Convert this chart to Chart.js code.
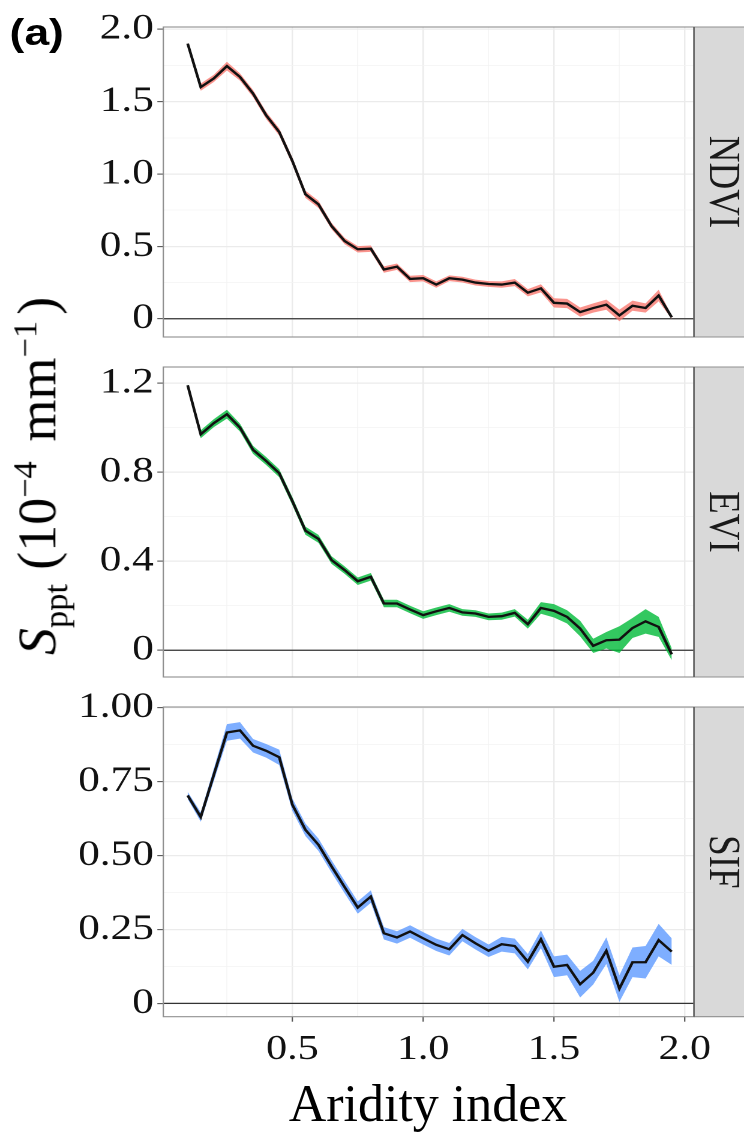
<!DOCTYPE html>
<html lang="en">
<head>
<meta charset="UTF-8">
<title>Sppt vs aridity index</title>
<script src="https://cdn.jsdelivr.net/npm/chart.js"></script>
<style>
  body { margin: 0; background: #fff; width: 744px; height: 1140px; overflow: hidden; position: relative; }
  /* the panels of the source figure are stretched sideways, so they are drawn narrow and scaled */
  #wrap { position: absolute; left: 0; top: 0; width: 620px; height: 1140px; transform: scaleX(1.2); transform-origin: 0 0; }
  canvas { position: absolute; left: 0; }
  #tag { position: absolute; left: 8px; top: 14px; font: bold 37px "Liberation Sans", Arial, sans-serif; line-height: 1; color: #000; }
  #ytitle { position: absolute; left: 40px; top: 476px; font: 54px "Liberation Serif", "Times New Roman", serif; line-height: 1;
            white-space: nowrap; color: #000; transform: translate(-50%, -50%) rotate(-90deg); }
  #ytitle sub, #ytitle sup { font-size: 0.64em; }
  #ytitle sub { margin-right: 14px; }
  #ytitle sup { margin-right: 6px; }
  #xtitle { position: absolute; left: 228px; width: 400px; top: 1078px; text-align: center;
            font: 52px "Liberation Serif", "Times New Roman", serif; line-height: 1; color: #000; }
</style>
</head>
<body>
<div id="wrap">
  <div id="tag">(a)</div>
  <canvas id="c0" width="620" height="332" style="top:7px"></canvas>
  <canvas id="c1" width="620" height="332" style="top:347px"></canvas>
  <canvas id="c2" width="620" height="453" style="top:687px"></canvas>
</div>
<div id="ytitle"><i>S</i><sub>ppt</sub>(10<sup>−4</sup> mm<sup>−1</sup>)</div>
<div id="xtitle">Aridity index</div>
<script>
  // aridity index bins
  const aridity = [0.10, 0.15, 0.20, 0.25, 0.30, 0.35, 0.40, 0.45, 0.50, 0.55,
                   0.60, 0.65, 0.70, 0.75, 0.80, 0.85, 0.90, 0.95, 1.00, 1.05,
                   1.10, 1.15, 1.20, 1.25, 1.30, 1.35, 1.40, 1.45, 1.50, 1.55,
                   1.60, 1.65, 1.70, 1.75, 1.80, 1.85, 1.90, 1.95];

  // Sppt per index (line) and half width of the ribbon
  const ndvi = [1.90, 1.60, 1.66, 1.745, 1.67, 1.555, 1.405, 1.29, 1.09, 0.86,
                0.79, 0.64, 0.537, 0.48, 0.484, 0.34, 0.36, 0.275, 0.28, 0.236,
                0.28, 0.27, 0.25, 0.24, 0.236, 0.25, 0.18, 0.21, 0.11, 0.105,
                0.046, 0.074, 0.097, 0.023, 0.09, 0.074, 0.16, 0.01];
  const ndviErr = [0.008, 0.025, 0.025, 0.03, 0.025, 0.025, 0.025, 0.025, 0.025, 0.025,
                   0.025, 0.022, 0.022, 0.022, 0.022, 0.022, 0.022, 0.022, 0.022, 0.022,
                   0.02, 0.02, 0.02, 0.02, 0.022, 0.025, 0.025, 0.028, 0.032, 0.032,
                   0.032, 0.032, 0.035, 0.04, 0.035, 0.032, 0.04, 0.012];

  const evi = [1.19, 0.97, 1.02, 1.06, 1.00, 0.90, 0.85, 0.795, 0.67, 0.537,
               0.50, 0.405, 0.36, 0.31, 0.33, 0.21, 0.21, 0.183, 0.158, 0.175,
               0.19, 0.17, 0.165, 0.15, 0.153, 0.168, 0.117, 0.19, 0.177, 0.15,
               0.0975, 0.02, 0.045, 0.048, 0.10, 0.13, 0.105, -0.018];
  const eviErr = [0.006, 0.018, 0.018, 0.02, 0.018, 0.018, 0.018, 0.018, 0.018, 0.018,
                  0.018, 0.017, 0.017, 0.017, 0.017, 0.017, 0.017, 0.017, 0.017, 0.017,
                  0.017, 0.015, 0.015, 0.015, 0.016, 0.017, 0.02, 0.026, 0.03, 0.03,
                  0.035, 0.032, 0.037, 0.06, 0.045, 0.055, 0.045, 0.027];

  const sif = [0.703, 0.63, 0.773, 0.916, 0.923, 0.871, 0.854, 0.832, 0.672, 0.587,
               0.536, 0.463, 0.393, 0.324, 0.361, 0.237, 0.223, 0.243, 0.22, 0.198,
               0.183, 0.231, 0.203, 0.178, 0.20, 0.194, 0.141, 0.217, 0.124, 0.13,
               0.065, 0.104, 0.178, 0.05, 0.139, 0.139, 0.214, 0.175];
  const sifErr = [0.012, 0.016, 0.021, 0.028, 0.028, 0.023, 0.023, 0.026, 0.021, 0.021,
                  0.021, 0.021, 0.021, 0.021, 0.021, 0.021, 0.021, 0.021, 0.021, 0.021,
                  0.021, 0.021, 0.021, 0.021, 0.025, 0.025, 0.026, 0.03, 0.035, 0.035,
                  0.045, 0.04, 0.045, 0.045, 0.05, 0.055, 0.055, 0.045];

  const panelNames = ['NDVI', 'EVI', 'SIF'];

  // axes
  const xTickValues = [0.5, 1.0, 1.5, 2.0];
  const xTickLabels = ['0.5', '1.0', '1.5', '2.0'];
  const xMinor = [0.25, 0.75, 1.25, 1.75];

  const ndviTicks = [0, 0.5, 1.0, 1.5, 2.0];
  const ndviTickLabels = ['0', '0.5', '1.0', '1.5', '2.0'];
  const ndviMinor = [0.25, 0.75, 1.25, 1.75];

  const eviTicks = [0, 0.4, 0.8, 1.2];
  const eviTickLabels = ['0', '0.4', '0.8', '1.2'];
  const eviMinor = [0.2, 0.6, 1.0];

  const sifTicks = [0, 0.25, 0.5, 0.75, 1.0];
  const sifTickLabels = ['0', '0.25', '0.50', '0.75', '1.00'];
  const sifMinor = [0.125, 0.375, 0.625, 0.875];

  const SERIF = '"Liberation Serif", "Times New Roman", serif';
  const W = 620;            // drawing width before the sideways stretch (x1.2)
  const PLOT_LEFT = 136.1;
  const PLOT_RIGHT = 578.3;

  const near = (a, b) => Math.abs(a - b) < 1e-6;
  const isIn = (list, v) => list.some(t => near(t, v));

  // zero line, panel frame and the grey strip with the facet name
  const panelDeco = {
    id: 'panelDeco',
    beforeDatasetsDraw(chart) {
      const { ctx, chartArea: a, scales: { y } } = chart;
      const y0 = y.getPixelForValue(0);
      ctx.save();
      ctx.strokeStyle = '#333';
      ctx.lineWidth = 1.3;
      ctx.beginPath();
      ctx.moveTo(a.left, y0);
      ctx.lineTo(a.right, y0);
      ctx.stroke();
      ctx.restore();
    },
    afterDraw(chart, args, opts) {
      const { ctx, chartArea: a } = chart;
      const w = chart.width;
      ctx.save();
      ctx.fillStyle = '#D9D9D9';
      ctx.fillRect(a.right, a.top, w - a.right, a.bottom - a.top);
      ctx.strokeStyle = '#8f8f8f';
      ctx.lineWidth = 1.1;
      ctx.strokeRect(a.left, a.top, a.right - a.left, a.bottom - a.top);
      ctx.beginPath();
      ctx.moveTo(a.right, a.top); ctx.lineTo(w, a.top);
      ctx.moveTo(a.right, a.bottom); ctx.lineTo(w, a.bottom);
      ctx.stroke();
      ctx.strokeStyle = '#555';
      ctx.beginPath();
      ctx.moveTo(a.right, a.top); ctx.lineTo(a.right, a.bottom);
      ctx.stroke();
      ctx.translate((a.right + w) / 2 + 2, (a.top + a.bottom) / 2);
      ctx.rotate(Math.PI / 2);
      ctx.fillStyle = '#1a1a1a';
      ctx.font = '37px ' + SERIF;
      ctx.textAlign = 'center';
      ctx.textBaseline = 'middle';
      ctx.fillText(opts.label, 0, 0);
      ctx.restore();
    }
  };

  function buildPanel(id, p) {
    const pts = arr => arr.map((v, i) => ({ x: aridity[i], y: v }));
    const hi = p.values.map((v, i) => v + p.errs[i]);
    const lo = p.values.map((v, i) => v - p.errs[i]);

    const gridColor = (c, major) => !c.tick ? 'rgba(0,0,0,0)' : (isIn(major, c.tick.value) ? '#EBEBEB' : '#F3F3F3');
    const gridWidth = (c, major) => c.tick && isIn(major, c.tick.value) ? 1.2 : 0.7;
    const tickColor = (c, major) => c.tick && isIn(major, c.tick.value) ? '#555' : 'rgba(0,0,0,0)';
    const labelFor = (v, vals, labels) => {
      const i = vals.findIndex(t => near(t, v));
      return i < 0 ? '' : labels[i];
    };

    new Chart(document.getElementById(id), {
      type: 'line',
      data: {
        datasets: [
          { data: pts(p.values), borderColor: '#111', borderWidth: 2.3, pointRadius: 0, fill: false, tension: 0 },
          { data: pts(hi), borderColor: 'rgba(0,0,0,0)', borderWidth: 0, pointRadius: 0, fill: '+1', backgroundColor: p.fill },
          { data: pts(lo), borderColor: 'rgba(0,0,0,0)', borderWidth: 0, pointRadius: 0, fill: false }
        ]
      },
      options: {
        responsive: false,
        animation: false,
        devicePixelRatio: 2,
        events: [],
        layout: { padding: { top: 20, bottom: p.bottom ? 0 : 2, left: 0, right: W - PLOT_RIGHT } },
        plugins: {
          legend: { display: false },
          tooltip: { enabled: false },
          panelDeco: { label: p.name }
        },
        scales: {
          x: {
            type: 'linear',
            min: 0.007,
            max: 2.035,
            afterBuildTicks: s => {
              s.ticks = xMinor.concat(xTickValues).sort((a, b) => a - b).map(v => ({ value: v }));
            },
            afterFit: s => {
              s.height = p.bottom ? 123.3 : 0;
              s.paddingLeft = 0;
              s.paddingRight = 0;
            },
            border: { display: false },
            grid: {
              color: c => gridColor(c, xTickValues),
              lineWidth: c => gridWidth(c, xTickValues),
              drawTicks: p.bottom,
              tickLength: 5,
              tickColor: c => tickColor(c, xTickValues),
              tickWidth: 1.1
            },
            ticks: {
              display: p.bottom,
              autoSkip: false,
              maxRotation: 0,
              padding: 7,
              color: '#111',
              font: { family: SERIF, size: 35 },
              callback: v => labelFor(v, xTickValues, xTickLabels)
            }
          },
          y: {
            type: 'linear',
            min: p.yMin,
            max: p.yMax,
            afterBuildTicks: s => {
              s.ticks = p.minor.concat(p.ticks).sort((a, b) => a - b).map(v => ({ value: v }));
            },
            afterFit: s => {
              s.width = PLOT_LEFT;
              s.paddingTop = 0;
              s.paddingBottom = 0;
            },
            border: { display: false },
            grid: {
              color: c => gridColor(c, p.ticks),
              lineWidth: c => gridWidth(c, p.ticks),
              drawTicks: true,
              tickLength: 5,
              tickColor: c => tickColor(c, p.ticks),
              tickWidth: 1.1
            },
            ticks: {
              autoSkip: false,
              padding: 3,
              color: '#111',
              font: { family: SERIF, size: 36 },
              callback: v => labelFor(v, p.ticks, p.labels)
            }
          }
        }
      },
      plugins: [panelDeco]
    });
  }

  buildPanel('c0', { name: panelNames[0], values: ndvi, errs: ndviErr, fill: 'rgba(248,118,109,0.78)',
                     yMin: -0.126, yMax: 2.015, ticks: ndviTicks, labels: ndviTickLabels, minor: ndviMinor, bottom: false });
  buildPanel('c1', { name: panelNames[1], values: evi, errs: eviErr, fill: 'rgba(0,186,56,0.8)',
                     yMin: -0.120, yMax: 1.272, ticks: eviTicks, labels: eviTickLabels, minor: eviMinor, bottom: false });
  buildPanel('c2', { name: panelNames[2], values: sif, errs: sifErr, fill: 'rgba(97,156,255,0.82)',
                     yMin: -0.045, yMax: 1.002, ticks: sifTicks, labels: sifTickLabels, minor: sifMinor, bottom: true });
</script>
</body>
</html>
